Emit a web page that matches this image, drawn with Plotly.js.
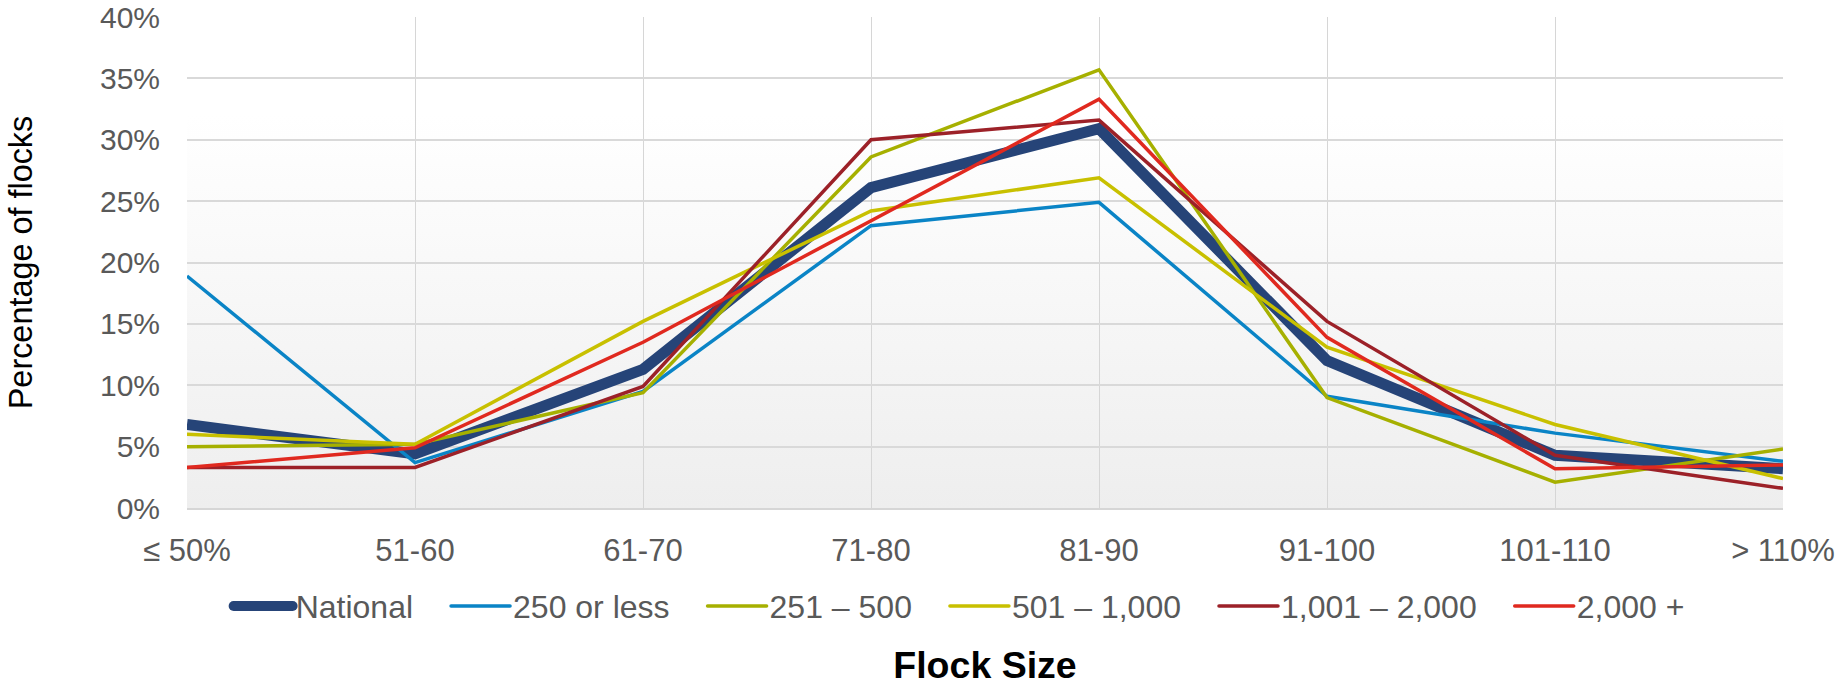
<!DOCTYPE html>
<html>
<head>
<meta charset="utf-8">
<script src="https://cdn.plot.ly/plotly-3.0.1.min.js"></script>
<style>
html, body { margin: 0; padding: 0; background: #ffffff; }
#chart { width: 1845px; height: 686px; }
</style>
</head>
<body>
<div id="chart"></div>
<script>
// Categories (x axis)
const categories = ["≤ 50%", "51-60", "61-70", "71-80", "81-90", "91-100", "101-110", "> 110%"];

// Series values (percentage of flocks)
const seriesNames = ["National", "250 or less", "251 – 500", "501 – 1,000", "1,001 – 2,000", "2,000 +"];
const national      = [6.8, 4.4, 11.3, 26.1, 30.9, 12.0, 4.3, 3.2];
const upTo250       = [18.9, 3.7, 9.5, 23.0, 24.9, 9.1, 6.1, 3.8];
const from251to500  = [5.0, 5.2, 9.4, 28.6, 35.7, 9.0, 2.1, 4.8];
const from501to1000 = [6.0, 5.2, 15.2, 24.2, 26.9, 13.1, 6.8, 2.4];
const from1001to2000= [3.3, 3.3, 9.9, 30.0, 31.6, 15.2, 4.3, 1.6];
const over2000      = [3.3, 4.9, 13.5, 23.4, 33.3, 13.9, 3.2, 3.5];

// Y tick values
const yTicks = [0, 5, 10, 15, 20, 25, 30, 35, 40];
const yTickLabels = yTicks.map(v => v + "%");

const seriesValues = [national, upTo250, from251to500, from501to1000, from1001to2000, over2000];
const seriesColors = ["#264478", "#0a84c6", "#a6b000", "#c8c000", "#9c2128", "#e0291f"];
const seriesWidths = [11, 3.5, 3.5, 3.5, 3.5, 3.5];

const traces = seriesNames.map((name, i) => ({
  type: "scatter",
  mode: "lines",
  name: name,
  x: categories,
  y: seriesValues[i],
  line: { color: seriesColors[i], width: seriesWidths[i] },
  hoverinfo: "x+y+name"
}));

const bgSvg = '<svg xmlns="http://www.w3.org/2000/svg" width="100" height="100" preserveAspectRatio="none">' +
  '<defs><linearGradient id="g" x1="0" y1="0" x2="0" y2="1">' +
  '<stop offset="0" stop-color="#ffffff"/><stop offset="0.2" stop-color="#ffffff"/>' +
  '<stop offset="1" stop-color="#eeeeee"/></linearGradient></defs>' +
  '<rect width="100" height="100" fill="url(#g)"/></svg>';

const font = "Liberation Sans, Arial, sans-serif";

const layout = {
  width: 1845,
  height: 686,
  margin: { l: 187, r: 62, t: 17, b: 178 },
  paper_bgcolor: "#ffffff",
  plot_bgcolor: "rgba(0,0,0,0)",
  font: { family: font, size: 30, color: "#595959" },
  showlegend: true,
  legend: {
    orientation: "h",
    x: 0.48, xanchor: "center",
    y: -0.2, yanchor: "middle",
    font: { family: font, size: 32, color: "#595959" },
    tracegroupgap: 0
  },
  images: [{
    source: "data:image/svg+xml;charset=utf-8," + encodeURIComponent(bgSvg),
    xref: "paper", yref: "paper",
    x: 0, y: 1, sizex: 1, sizey: 1,
    xanchor: "left", yanchor: "top",
    sizing: "stretch",
    layer: "below"
  }],
  xaxis: {
    type: "category",
    range: [0, 7],
    showgrid: true,
    gridcolor: "#d6d6d6",
    gridwidth: 1,
    showline: true,
    linecolor: "#d6d6d6",
    linewidth: 2,
    zeroline: false,
    ticks: "",
    tickfont: { family: font, size: 31, color: "#595959" },
    ticklabelstandoff: 14,
    ticklabeloverflow: "allow",
    title: {
      text: "<b>Flock Size</b>",
      font: { family: font, size: 37.5, color: "#000000" },
      standoff: 90
    },
    fixedrange: true
  },
  yaxis: {
    range: [0, 40],
    tickvals: yTicks,
    ticktext: yTickLabels,
    showgrid: true,
    gridcolor: "#d9d9d9",
    gridwidth: 2,
    zeroline: false,
    showline: false,
    ticks: "",
    tickfont: { family: font, size: 30, color: "#595959" },
    ticklabelstandoff: 26,
    ticklabeloverflow: "allow",
    title: {
      text: "Percentage of flocks",
      font: { family: font, size: 32.4, color: "#000000" },
      standoff: 57
    },
    fixedrange: true
  }
};

// Spread legend entries like the original (long line keys, wider gaps)
function spreadLegend(gd) {
  const leg = gd.querySelector(".legend");
  if (!leg) return;
  const items = Array.from(leg.querySelectorAll(".traces"));
  const L = 62, G = 38, textX = 40;
  let x = 0, right = 0;
  items.forEach((it) => {
    const m = /translate\(\s*([-\d.]+)[ ,]+([-\d.]+)\s*\)/.exec(it.getAttribute("transform") || "");
    const y = m ? parseFloat(m[2]) : 0;
    it.setAttribute("transform", "translate(" + x + "," + y + ")");
    it.querySelectorAll(".legendlines path").forEach(p => {
      p.setAttribute("d", "M" + (textX - L) + ",0h" + (L - 3));
      p.style.strokeLinecap = "round";
    });
    const t = it.querySelector(".legendtext");
    const w = t ? t.getComputedTextLength() : 0;
    right = x + textX + w;
    x += w + G + L;
  });
  const left = textX - L;
  const sb = leg.querySelector(".scrollbox");
  if (sb) sb.removeAttribute("clip-path");
  leg.removeAttribute("clip-path");
  const bg = leg.querySelector(".bg");
  if (bg) bg.style.display = "none";
  const m = /translate\(\s*([-\d.]+)[ ,]+([-\d.]+)\s*\)/.exec(leg.getAttribute("transform") || "");
  const ly = m ? parseFloat(m[2]) : 0;
  const centerX = 959;
  const lx = centerX - (left + right) / 2;
  leg.setAttribute("transform", "translate(" + lx + "," + ly + ")");
}

Plotly.newPlot("chart", traces, layout, { displayModeBar: false, staticPlot: true })
  .then(gd => spreadLegend(gd));
</script>
</body>
</html>
